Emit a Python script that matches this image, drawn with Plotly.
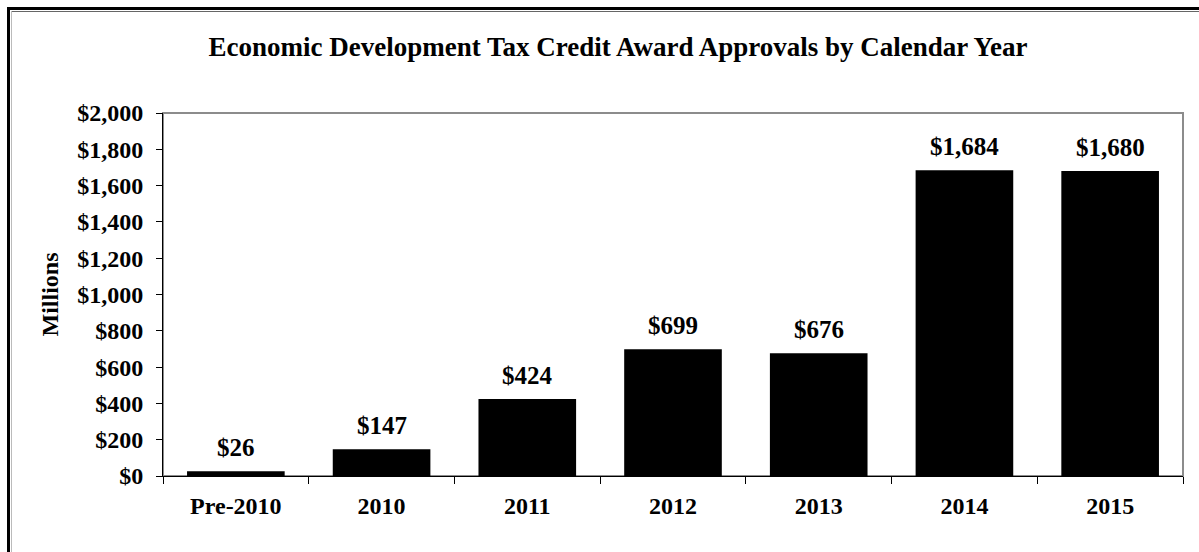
import plotly.graph_objects as go

# Award approvals by calendar year, in millions of dollars
categories = ["Pre-2010", "2010", "2011", "2012", "2013", "2014", "2015"]
approvals = [26, 147, 424, 699, 676, 1684, 1680]
value_labels = ["$26", "$147", "$424", "$699", "$676", "$1,684", "$1,680"]

tick_values = [0, 200, 400, 600, 800, 1000, 1200, 1400, 1600, 1800, 2000]
tick_text = ["$0", "$200", "$400", "$600", "$800", "$1,000", "$1,200",
             "$1,400", "$1,600", "$1,800", "$2,000"]

SERIF = "Times New Roman, Liberation Serif, serif"

W, H = 1199, 552
L, R, T, B = 163, 16, 113, 76
pw, ph = W - L - R, H - T - B


def px_x(x):
    return (x - L) / pw


def px_y(y):
    return (H - B - y) / ph


fig = go.Figure()
fig.add_trace(go.Bar(
    x=categories,
    y=approvals,
    marker=dict(color="black", line=dict(width=0)),
    hoverinfo="x+y",
))

# value labels above each bar (x given as category index)
for i, (val, lab) in enumerate(zip(approvals, value_labels)):
    fig.add_annotation(
        x=i, y=val, text=f"<b>{lab}</b>", showarrow=False,
        xanchor="center", yanchor="bottom", yshift=8,
        font=dict(family=SERIF, size=25, color="black"),
    )

# y-axis caption
fig.add_annotation(
    xref="paper", yref="paper", x=px_x(49), y=0.5,
    xanchor="center", yanchor="middle",
    text="<b>Millions</b>", textangle=-90, showarrow=False,
    font=dict(family=SERIF, size=24, color="black"),
)

shapes = [
    # grey plot-area frame (top and right edges)
    dict(type="rect", xref="paper", yref="paper", x0=0, y0=0, x1=1, y1=1,
         line=dict(color="#8c8c8c", width=2), layer="below"),
    # outer page frame: heavy outer line and thin inner line
    dict(type="line", xref="paper", yref="paper",
         x0=px_x(8.5), y0=px_y(7), x1=px_x(8.5), y1=px_y(560),
         line=dict(color="black", width=3)),
    dict(type="line", xref="paper", yref="paper",
         x0=px_x(7), y0=px_y(8.5), x1=px_x(1210), y1=px_y(8.5),
         line=dict(color="black", width=3)),
    dict(type="line", xref="paper", yref="paper",
         x0=px_x(11.5), y0=px_y(11.5), x1=px_x(1210), y1=px_y(11.5),
         line=dict(color="#666666", width=1)),
    dict(type="line", xref="paper", yref="paper",
         x0=px_x(11.5), y0=px_y(11.5), x1=px_x(11.5), y1=px_y(560),
         line=dict(color="#bbbbbb", width=1)),
]

fig.update_layout(
    width=W, height=H,
    margin=dict(l=L, r=R, t=T, b=B, pad=0, autoexpand=False),
    paper_bgcolor="white", plot_bgcolor="white",
    showlegend=False,
    bargap=0.33,
    title=dict(
        text="<b>Economic Development Tax Credit Award Approvals by Calendar Year</b>",
        x=618 / W, xref="container", xanchor="center",
        y=1 - 47 / H, yref="container", yanchor="middle",
        font=dict(family=SERIF, size=27, color="black"),
    ),
    shapes=shapes,
    xaxis=dict(
        type="category", categoryorder="array", categoryarray=categories,
        range=[-0.5, len(categories) - 0.5],
        automargin=False, tickangle=0,
        showline=True, linecolor="black", linewidth=1,
        ticks="outside", tickson="boundaries", ticklen=7, tickcolor="black",
        ticklabelstandoff=8,
        showgrid=False,
        tickfont=dict(family=SERIF, size=24, color="black"),
        tickprefix="<b>", ticksuffix="</b>",
    ),
    yaxis=dict(
        range=[0, 2000], automargin=False,
        showline=True, linecolor="black", linewidth=1,
        ticks="outside", ticklen=6, tickcolor="black",
        tickvals=tick_values, ticktext=[f"<b>{t}</b>" for t in tick_text],
        ticklabelstandoff=8,
        showgrid=False, zeroline=False,
        tickfont=dict(family=SERIF, size=24, color="black"),
    ),
)

fig.write_html("out.html")
